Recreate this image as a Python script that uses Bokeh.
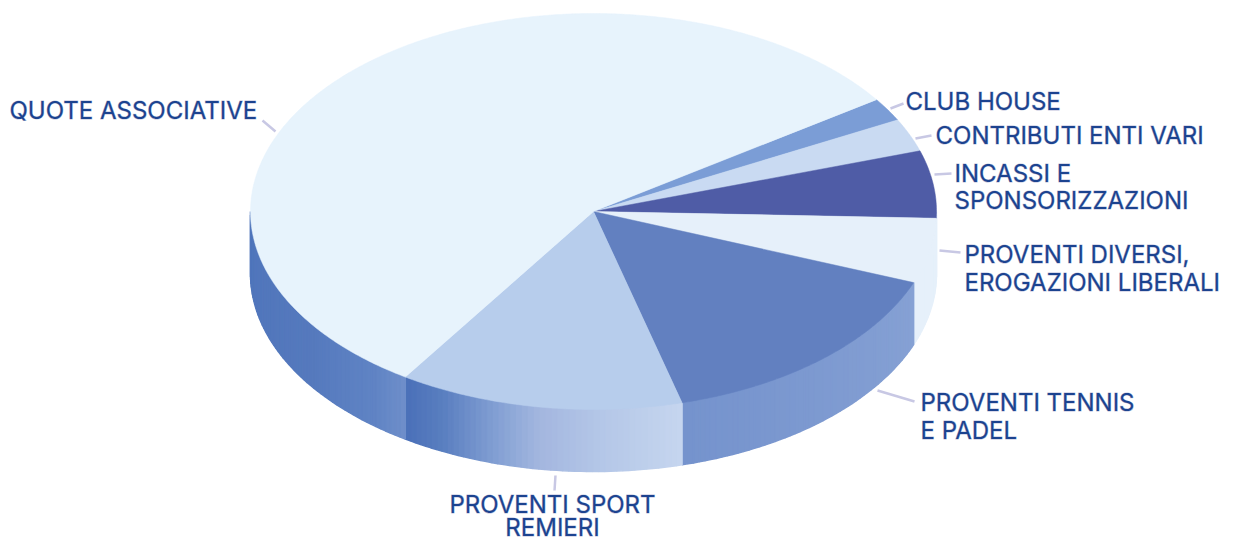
import math
from bokeh.plotting import figure
from bokeh.models import Range1d
from bokeh.core.properties import value
from bokeh.embed import file_html
from bokeh.resources import INLINE

# ---- data (share of the pie, percent), clockwise from the top right
categories = ["CLUB HOUSE", "CONTRIBUTI ENTI VARI", "INCASSI E SPONSORIZZAZIONI",
              "PROVENTI DIVERSI, EROGAZIONI LIBERALI", "PROVENTI TENNIS E PADEL",
              "PROVENTI SPORT REMIERI", "QUOTE ASSOCIATIVE"]
shares = [1.9, 2.7, 5.5, 5.3, 15.0, 13.4, 56.2]

# ---- styles
top_colors = ["#7B9DD6", "#C9DAF2", "#4F5CA6", "#E6F0FA", "#6280C0", "#B7CDEC", "#E7F3FC"]
side_stops = [
    [(0, "#7B9DD6"), (1, "#7B9DD6")],
    [(0, "#C9DAF2"), (1, "#C9DAF2")],
    [(0, "#E6F0FA"), (1, "#E6F0FA")],
    [(0, "#E6F0FA"), (1, "#E6F0FA")],
    [(0, "#86A1D4"), (1, "#7593CD")],
    [(0, "#C6D6EF"), (0.3, "#B3C6E7"), (0.5, "#A3B6DF"), (0.62, "#8AA5D6"), (0.85, "#5A7FC0"), (1, "#4A70B8")],
    [(0, "#6F8FCB"), (0.12, "#5F83C4"), (0.4, "#5579BD"), (1, "#4F75BB")],
]
TEXT = "#1C438F"
TEXT_EDGE = "rgba(28,67,143,0.35)"
LEADER = "#C8C8E4"
FONT = "Inter"
SIZE = "24px"

# ---- pie geometry (page pixels)
CX, CY, RX, RY, DEPTH = 593, 211, 343, 198, 62
START = 34.4

def hex2rgb(h):
    return tuple(int(h[i:i + 2], 16) for i in (1, 3, 5))

def mix(stops, f):
    for (a, ca), (b, cb) in zip(stops, stops[1:]):
        if f <= b:
            u = (f - a) / (b - a)
            ra, rb = hex2rgb(ca), hex2rgb(cb)
            return "#%02x%02x%02x" % tuple(round(x + (y - x) * u) for x, y in zip(ra, rb))
    return stops[-1][1]

def pt(t, dy=0):
    r = math.radians(t)
    return CX + RX * math.cos(r), CY - RY * math.sin(r) + dy

p = figure(width=1242, height=542, x_range=Range1d(0, 1242), y_range=Range1d(542, 0),
           x_axis_type=None, y_axis_type=None, output_backend="svg", toolbar_location=None,
           min_border=0, outline_line_color=None, background_fill_color="white")
p.grid.visible = False

# walk the slices clockwise: angle runs downward from START
bounds = [START]
for s in shares:
    bounds.append(bounds[-1] - s * 3.6)

# sides: thin quads over the front half of the rim, coloured along the slice
sx, sy, sc = [], [], []
for i, st in enumerate(side_stops):
    a0, a1 = bounds[i], bounds[i + 1]
    b0 = min(a0, 0)
    b1 = max(a1, -180)
    if b0 <= b1:
        continue
    n = max(2, int(b0 - b1))
    for k in range(n):
        t0 = b0 + (b1 - b0) * k / n
        t1 = b0 + (b1 - b0) * (k + 1) / n
        x0, y0 = pt(t0)
        x1, y1 = pt(t1)
        x2, y2 = pt(t1, DEPTH)
        x3, y3 = pt(t0, DEPTH)
        sx.append([x0, x1, x2, x3])
        sy.append([y0, y1, y2, y3])
        sc.append(mix(st, (k + 0.5) / n))
p.patches(sx, sy, fill_color=sc, line_color=sc, line_width=1.5)

# top faces
tx, ty = [], []
for i in range(len(shares)):
    a0, a1 = bounds[i], bounds[i + 1]
    n = max(4, int(abs(a0 - a1) * 2))
    pts = [pt(a0 + (a1 - a0) * k / n) for k in range(n + 1)]
    tx.append([CX] + [q[0] for q in pts])
    ty.append([CY] + [q[1] for q in pts])
p.patches(tx, ty, fill_color=top_colors, line_color=top_colors, line_width=0.5)

# ---- leader lines
leaders = [((262, 120), (275, 131)), ((890, 108), (903, 103)), ((915, 138), (931, 135)),
           ((934, 174), (951, 173)), ((939, 250), (960, 252)), ((877, 390), (914, 401)),
           ((555, 475), (554, 490))]
p.multi_line([[a[0], b[0]] for a, b in leaders], [[a[1], b[1]] for a, b in leaders],
             line_color=LEADER, line_width=2.5)

# ---- labels
left_labels = ["QUOTE ASSOCIATIVE", "CLUB HOUSE", "CONTRIBUTI ENTI VARI", "INCASSI E",
               "SPONSORIZZAZIONI", "PROVENTI DIVERSI,", "EROGAZIONI LIBERALI",
               "PROVENTI TENNIS", "E PADEL"]
left_x = [9, 905, 935, 954, 954, 964, 964, 920, 920]
left_y = [110, 101, 135, 173, 200, 254, 282, 402, 430]
p.text(left_x, left_y, text=left_labels, text_color=TEXT, text_font=value(FONT),
       text_font_size=SIZE, text_align="left", text_baseline="middle",
       text_outline_color=TEXT_EDGE)
center_labels = ["PROVENTI SPORT", "REMIERI"]
p.text([552, 552], [504, 527], text=center_labels, text_color=TEXT, text_font=value(FONT),
       text_font_size=SIZE, text_align="center", text_baseline="middle",
       text_outline_color=TEXT_EDGE)

open("out.html", "w").write(file_html(p, INLINE))
